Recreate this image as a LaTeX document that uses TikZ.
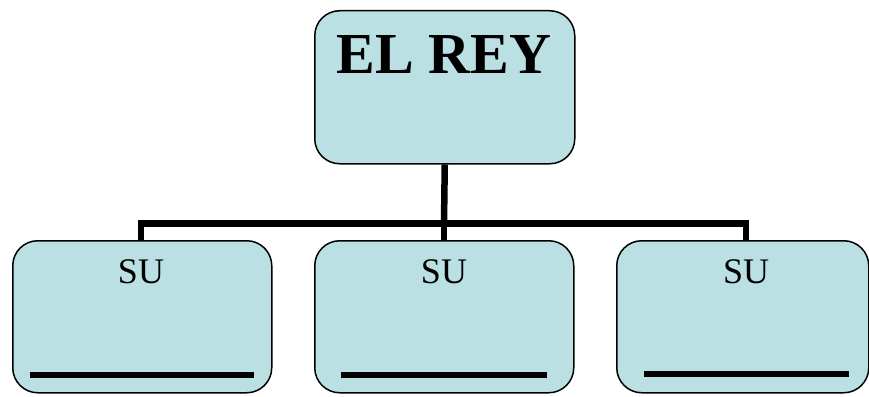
\documentclass[tikz,border=0pt]{standalone}
\usepackage{fontspec}
\setmainfont{Liberation Serif}
\usetikzlibrary{calc}
\definecolor{boxfill}{RGB}{187,224,227}
\begin{document}
\begin{tikzpicture}[x=1pt,y=-1pt,
  box/.style={draw=black,line width=1.5pt,fill=boxfill,rounded corners=25pt,inner sep=0pt,anchor=north west},
  conn/.style={line width=6.5pt,line join=miter},
  blank/.style={line width=6pt},
  sutext/.style={font=\fontsize{36}{36}\selectfont,anchor=base,inner sep=0pt}]
\useasboundingbox (0,0) rectangle (869,396);
\node[box,minimum width=260pt,minimum height=153pt] (top) at (314,10) {};
\node[box,minimum width=259pt,minimum height=152pt] (b1) at (12,240) {};
\node[box,minimum width=259pt,minimum height=152pt] (b2) at (314,240) {};
\node[box,minimum width=252pt,minimum height=152pt] (b3) at (616,240) {};
\node[font=\bfseries\fontsize{58}{58}\selectfont,anchor=base,inner sep=0pt] (toptext) at (444,74) {EL REY};
\node[sutext] (s1) at (141,283) {SU};
\node[sutext] (s2) at (444,283) {SU};
\node[sutext] (s3) at (746,283) {SU};
\coordinate (j) at (444,223.5);
\draw[conn] (top.south) -- (j);
\draw[conn] (j) -| (b1.north -| s1.base);
\draw[conn] (j) -| (b3.north -| s3.base);
\draw[conn] (j) -- (b2.north -| s2.base);
\draw[blank] (30,375) -- (254,375);
\draw[blank] (341,375) -- (547,375);
\draw[blank] (644,374) -- (849,374);
\end{tikzpicture}
\end{document}
